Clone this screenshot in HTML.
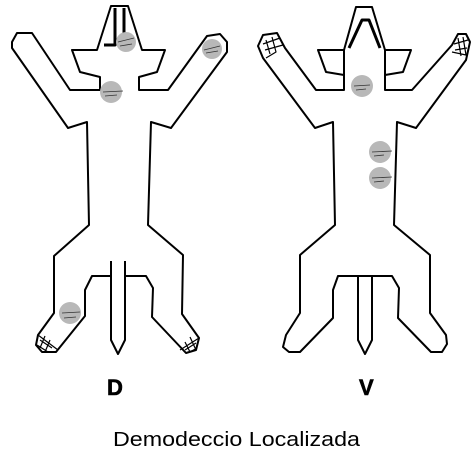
<!DOCTYPE html>
<html><head><meta charset="utf-8"><style>
html,body{margin:0;padding:0;background:#fff;}
svg{display:block;}
</style></head><body>
<svg width="473" height="460" viewBox="0 0 473 460" xmlns="http://www.w3.org/2000/svg">
<g fill="none" stroke="#000" stroke-width="2" stroke-linejoin="round">
<g>
<path d="M111,276 L92,276 L85,290 L85,316 L56,352 L42,352 L36,345 L38,335 L54,313 L54,256 L89,225 L87,122 L68,128 L12,48 L12,42 L17,33 L32,33 L70,90 L100,90 L100,77 L80,72 L72,50 L97,50 L111,6 L128,6 L142,50 L165,50 L157,72 L139,77 L139,90 L168,90 L207,36 L220,34 L227,42 L227,52 L171,128 L151,122 L148,225 L183,255 L182,314 L199,338 L196,350 L186,353 L152,317 L153,288 L146,276 L125,276"/>
<path d="M111,261 L111,340 L118,354 L125,340 L125,261"/>
<path stroke-width="3" d="M115,8 L115,45 L104,45 M124,8 L124,45 L133,45"/>
<path stroke-width="1.2" d="M38,335 L58,350 M40,340 L52,348 M37,345 L48,352 M45,336 L40,348 M50,340 L45,352"/>
<path stroke-width="1.2" d="M199,338 L180,350 M196,343 L185,350 M197,348 L190,352 M190,337 L196,350 M185,342 L190,352"/>
</g>
<g>
<path d="M356,7 L372,7 L385,50 L411,50 L403,72 L385,75 L385,90 L412,90 L452,45 L458,34 L466,34 L470,42 L466,60 L416,128 L397,122 L394,225 L430,255 L430,313 L446,335 L447,344 L442,352 L431,352 L398,318 L399,288 L392,276 L338,276 L333,290 L333,318 L300,352 L289,352 L283,347 L286,335 L300,313 L300,255 L335,225 L333,122 L315,128 L263,58 L258,46 L263,35 L277,33 L285,48 L316,90 L344,90 L344,75 L326,72 L318,50 L344,50 Z"/>
<path d="M344,50 L344,90 M385,50 L385,90"/>
<path d="M358,276 L358,340 L365,354 L372,340 L372,276"/>
<path stroke-width="3" d="M349,48 L362,20 L369,20 L380,48"/>
<path stroke-width="1.2" d="M263,44 L280,38 M265,50 L283,45 M266,40 L270,54 M272,37 L276,52 L266,58"/>
<path stroke-width="1.2" d="M454,44 L468,40 M455,50 L467,48 M458,38 L461,56 M463,37 L466,55 L452,52"/>
</g>
</g>
<g fill="#b8b8b8">
<circle cx="126" cy="42" r="10"/>
<circle cx="212" cy="49" r="10"/>
<circle cx="111" cy="92" r="11"/>
<circle cx="70" cy="313" r="11"/>
<circle cx="362" cy="86" r="11"/>
<circle cx="380" cy="152" r="11"/>
<circle cx="380" cy="178" r="11"/>
</g>
<g stroke="#333" stroke-width="0.8">
<path d="M118,42 L134,38 M120,46 L132,44 M204,50 L220,46 M206,53 L218,51 M103,92 L123,91 M105,96 L117,95 M62,313 L80,312 M64,318 L76,317 M354,86 L370,85 M356,90 L366,89 M372,152 L392,151 M374,156 L384,155 M372,178 L392,177 M374,182 L384,181"/>
</g>
<text x="107" y="395" font-family="Liberation Sans, sans-serif" font-weight="bold" font-size="22" stroke="#000" stroke-width="0.6">D</text>
<text x="359" y="395" font-family="Liberation Sans, sans-serif" font-weight="bold" font-size="22" stroke="#000" stroke-width="0.6">V</text>
<text x="113" y="446" font-family="Liberation Sans, sans-serif" font-size="20" textLength="247" lengthAdjust="spacingAndGlyphs">Demodeccio Localizada</text>
</svg>
</body></html>
